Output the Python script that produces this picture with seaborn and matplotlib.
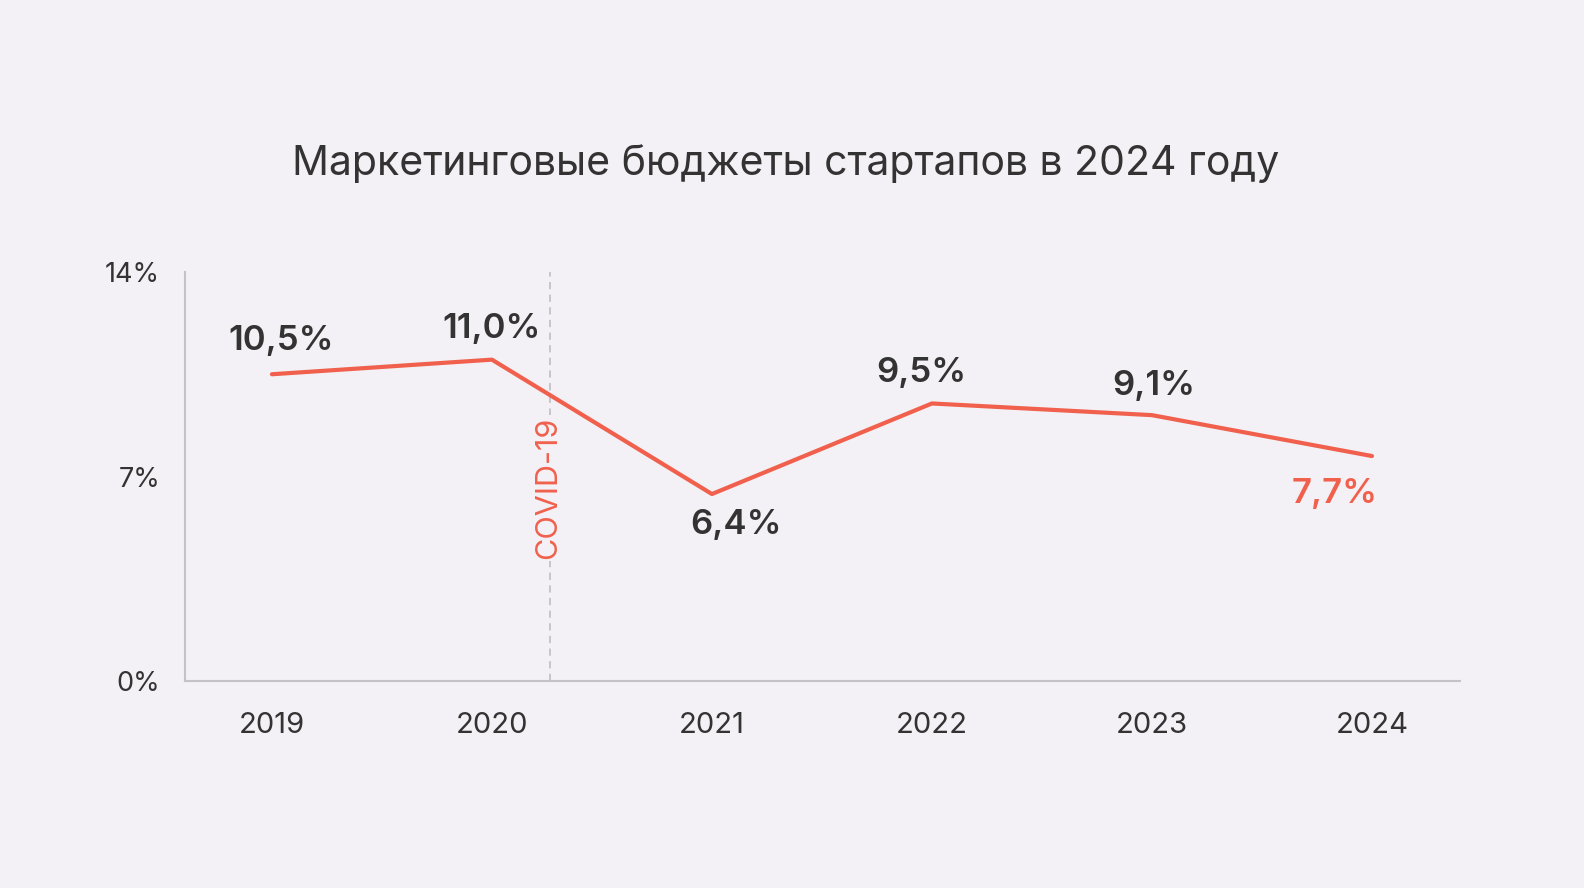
import pandas as pd
import seaborn as sns
import matplotlib
matplotlib.use('Agg')
import matplotlib.pyplot as plt

# data
years = ['2019', '2020', '2021', '2022', '2023', '2024']
budget_share = [10.5, 11.0, 6.4, 9.5, 9.1, 7.7]
value_labels = ['10,5%', '11,0%', '6,4%', '9,5%', '9,1%', '7,7%']
y_ticks = [0, 7, 14]
y_tick_labels = ['0%', '7%', '14%']
covid_pos = 1.265
title = 'Маркетинговые бюджеты стартапов в 2024 году'

BG = '#F3F1F5'
RED = '#F0604D'
DARK = '#333333'
GRID = '#C4C2C6'

sns.set_theme(style='white')
plt.rcParams['font.family'] = ['Inter', 'DejaVu Sans']

df = pd.DataFrame({'pos': range(len(years)), 'share': budget_share})

fig = plt.figure(figsize=(15.84, 8.88), dpi=100, facecolor=BG)
ax = fig.add_axes([0.1168, 0.2331, 0.8049, 0.4606])
ax.set_facecolor(BG)

sns.lineplot(data=df, x='pos', y='share', color=RED, linewidth=3, ax=ax)

ax.set_xlim(-0.395, 5.4)
ax.set_ylim(0, 14)
ax.set_xticks(range(len(years)))
ax.set_xticklabels(years)
ax.set_yticks(y_ticks)
ax.set_yticklabels(y_tick_labels)
ax.set_xlabel('')
ax.set_ylabel('')
ax.tick_params(axis='x', length=0, labelsize=21, labelcolor=DARK, pad=22)
ax.tick_params(axis='y', length=0, labelsize=19.5, labelcolor=DARK, pad=18)

for side in ['top', 'right']:
    ax.spines[side].set_visible(False)
for side in ['left', 'bottom']:
    ax.spines[side].set_color(GRID)
    ax.spines[side].set_linewidth(1.5)

# covid marker, label sits on top of the dashed line
ax.axvline(covid_pos, color=GRID, linestyle=(0, (4, 3)), linewidth=1.3, zorder=1)
ax.text(covid_pos - 0.01, 6.6, 'COVID-19', rotation=90, color=RED,
        fontsize=22, ha='center', va='center', zorder=3,
        bbox=dict(facecolor=BG, edgecolor='none', pad=1))

# value labels: offsets in data units from the point
offsets = [(0.04, 1.15), (0.0, 1.05), (0.11, -1.05), (-0.05, 1.05), (0.01, 1.0), (-0.17, -1.3)]
for i, (lab, (dx, dy)) in enumerate(zip(value_labels, offsets)):
    color = RED if i == len(value_labels) - 1 else DARK
    ax.text(i + dx, budget_share[i] + dy, lab, ha='center', va='center',
            fontsize=25, fontweight='semibold', color=color)

fig.text(0.496, 0.816, title, ha='center', va='center', fontsize=29.5, color=DARK)

fig.savefig('out.png', dpi=100, facecolor=BG)
